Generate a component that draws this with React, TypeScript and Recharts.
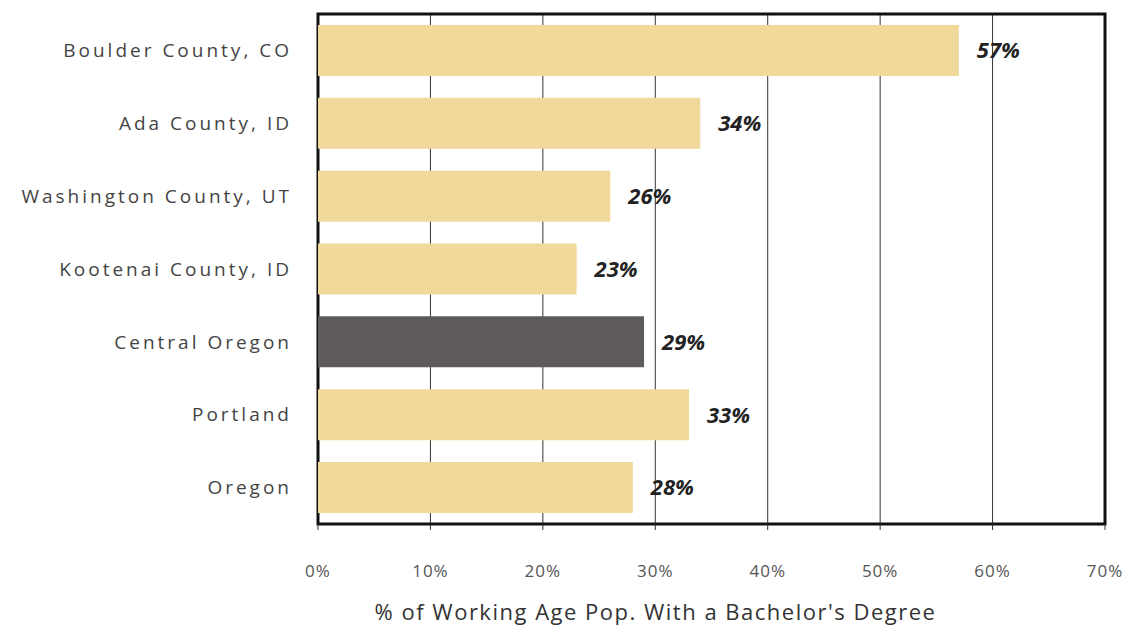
import { BarChart, Bar, Cell, XAxis, YAxis, CartesianGrid, LabelList, ReferenceArea } from 'recharts'

const places = [
  'Boulder County, CO',
  'Ada County, ID',
  'Washington County, UT',
  'Kootenai County, ID',
  'Central Oregon',
  'Portland',
  'Oregon',
]
const shares = [57, 34, 26, 23, 29, 33, 28]
const highlight = 'Central Oregon'
const xTicks = [0, 10, 20, 30, 40, 50, 60, 70]

const data = places.map((name, i) => ({ name, value: shares[i] }))

const FONT = '"Open Sans", "DejaVu Sans", sans-serif'
const TAN = '#F0D99A'
const DARK = '#5F5B5A'

export default function App() {
  return (
    <div style={{ position: 'fixed', left: 0, top: 0, width: 1127, height: 630, background: '#fff', fontFamily: FONT }}>
      <BarChart
        width={1127}
        height={630}
        data={data}
        layout="vertical"
        margin={{ top: 14, right: 22, bottom: 10, left: 18 }}
        barCategoryGap="15%"
      >
        <CartesianGrid horizontal={false} stroke="#333" strokeWidth={1} />
        <XAxis
          type="number"
          domain={[0, 70]}
          ticks={xTicks}
          interval={0}
          tickFormatter={(v: number) => `${v}%`}
          tick={{ fill: '#555', fontSize: 17, fontFamily: FONT, letterSpacing: 1 }}
          tickLine={{ stroke: '#333' }}
          tickSize={6}
          tickMargin={35}
          axisLine={false}
          height={96}
          label={{
            value: "% of Working Age Pop. With a Bachelor's Degree",
            position: 'insideBottom',
            offset: 0,
            dx: -56,
            style: { fill: '#333', fontSize: 22, fontFamily: FONT, letterSpacing: 1.5 },
          }}
        />
        <YAxis
          type="category"
          dataKey="name"
          width={300}
          tick={{ fill: '#444', fontSize: 19, fontFamily: FONT, letterSpacing: 3 }}
          tickLine={false}
          axisLine={false}
          tickMargin={20}
        />
        <Bar dataKey="value" isAnimationActive={false}>
          {data.map((d) => (
            <Cell key={d.name} fill={d.name === highlight ? DARK : TAN} />
          ))}
          <LabelList
            dataKey="value"
            position="right"
            offset={18}
            formatter={(v: number) => `${v}%`}
            style={{ fill: '#222', fontSize: 22, fontWeight: 700, fontStyle: 'italic', fontFamily: FONT }}
          />
        </Bar>
        <ReferenceArea x1={0} x2={70} fill="none" stroke="#111" strokeWidth={3} ifOverflow="visible" />
      </BarChart>
    </div>
  )
}
